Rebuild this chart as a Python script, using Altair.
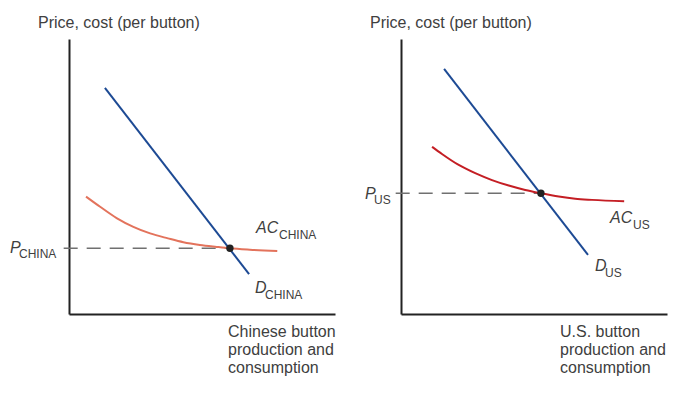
import altair as alt
import pandas as pd

# ---------------- data (in chart units 0-10) -------------
china_demand_q = [1.35, 6.77]
china_demand_p = [8.22, 1.45]
china_ac_q = [0.64, 1.17, 1.79, 2.42, 3.05, 3.72, 4.30, 4.92, 5.55, 6.05, 6.80, 7.83]
china_ac_p = [4.27, 3.90, 3.49, 3.17, 2.93, 2.75, 2.61, 2.51, 2.44, 2.39, 2.34, 2.29]
china_eq_q = [6.05]
china_eq_p = [2.39]

us_demand_q = [1.62, 7.03]
us_demand_p = [8.91, 2.15]
us_ac_q = [1.17, 1.54, 2.17, 2.79, 3.42, 4.05, 4.67, 5.26, 5.93, 6.55, 7.18, 8.39]
us_ac_p = [6.08, 5.82, 5.42, 5.12, 4.87, 4.67, 4.51, 4.39, 4.27, 4.19, 4.15, 4.10]
us_eq_q = [5.26]
us_eq_p = [4.39]

y_title = "Price, cost (per button)"
china_x_title = ["Chinese button", "production and", "consumption"]
us_x_title = ["U.S. button", "production and", "consumption"]

# ---------------- styling ----------------
W, H = 266, 275
FONT = "Liberation Sans"
TXT = "#404040"
AXIS_COL = "#222222"
BLUE = "#1d4a94"
SALMON = "#e3735c"
RED = "#c41e24"

xsc = alt.Scale(domain=[0, 10], nice=False, zero=False)
ysc = alt.Scale(domain=[0, 10], nice=False, zero=False)
x_axis = alt.Axis(labels=False, ticks=False, grid=False, title=None,
                  domainColor=AXIS_COL, domainWidth=2)
y_axis = alt.Axis(labels=False, ticks=False, grid=False, title=None,
                  domainColor=AXIS_COL, domainWidth=2)


def X(field):
    return alt.X(f"{field}:Q", scale=xsc, axis=x_axis)


def Y(field):
    return alt.Y(f"{field}:Q", scale=ysc, axis=y_axis)


one = pd.DataFrame({"k": [0]})


def text(s, x, y, size=16, italic=False, align="left"):
    return alt.Chart(one).mark_text(
        text=s, font=FONT, fontSize=size, color=TXT, align=align,
        baseline="middle", fontStyle="italic" if italic else "normal",
    ).encode(x=alt.value(x), y=alt.value(y))


def panel(dq, dp, aq, ap, eq, ep, ac_color, xt, sub,
          p_pos, ac_pos, d_pos):
    demand = pd.DataFrame({"q": dq, "p": dp})
    ac = pd.DataFrame({"q": aq, "p": ap})
    eqm = pd.DataFrame({"q": eq, "p": ep})
    dash = pd.DataFrame({"q0": [-0.2], "q1": eq, "p": ep})

    layers = [
        alt.Chart(dash).mark_rule(color="#707070", strokeWidth=1.6,
                                  strokeDash=[14, 9]).encode(
            x=X("q0"), x2="q1", y=Y("p")),
        alt.Chart(ac).mark_line(color=ac_color, strokeWidth=2,
                                interpolate="monotone").encode(
            x=X("q"), y=Y("p"), order="q:Q"),
        alt.Chart(demand).mark_line(color=BLUE, strokeWidth=2).encode(
            x=X("q"), y=Y("p")),
        alt.Chart(eqm).mark_circle(color="#222222", size=55, opacity=1).encode(
            x=X("q"), y=Y("p")),
        text(y_title, -31, -16),
    ]
    for i, line in enumerate(xt):
        layers.append(text(line, 159, 293 + 18 * i))
    # labels with subscripts
    (px, py), (ax, ay), (dx_, dy_) = p_pos, ac_pos, d_pos
    layers += [
        text("P", px, py, italic=True),
        text(sub, px + 9, py + 6, size=12),
        text("AC", ax, ay, italic=True),
        text(sub, ax + 23, ay + 7, size=12),
        text("D", dx_, dy_, italic=True),
        text(sub, dx_ + 10, dy_ + 7, size=12),
    ]
    return alt.layer(*layers).properties(width=W, height=H)


left = panel(china_demand_q, china_demand_p, china_ac_q, china_ac_p,
             china_eq_q, china_eq_p, SALMON, china_x_title, "CHINA",
             (-59, 209), (187, 189), (186, 249))
right = panel(us_demand_q, us_demand_p, us_ac_q, us_ac_p,
              us_eq_q, us_eq_p, RED, us_x_title, "US",
              (-36, 155), (209, 179), (194, 227))

chart = alt.hconcat(left, right, spacing=66, bounds="flush").properties(
    padding={"left": 2, "top": 7, "right": 5, "bottom": 5},
    background="white",
).configure_view(stroke=None)

chart.save("out.html", embed_options={"renderer": "svg", "actions": False})
